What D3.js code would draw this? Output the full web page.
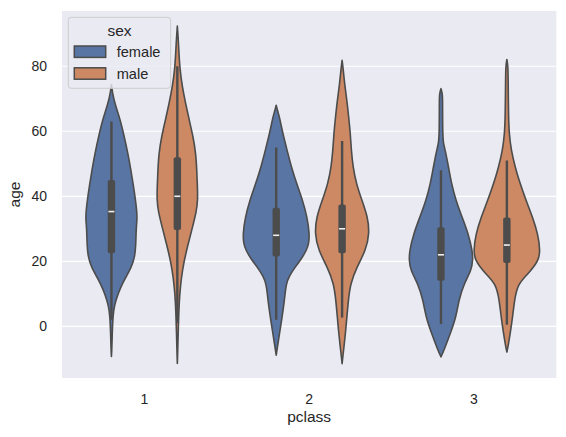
<!DOCTYPE html>
<html>
<head>
<meta charset="utf-8">
<script src="https://cdn.jsdelivr.net/npm/d3@7"></script>
<style>
  body { margin: 0; background: #fff; }
  text { font-family: "Liberation Sans", Arial, sans-serif; fill: #262626; }
</style>
</head>
<body>
<div id="chart"></div>
<script>
var vWidth = 566;
var vHeight = 437;

// categories
var classes = ["1", "2", "3"];
var sexes = ["female", "male"];
var yTicks = [0, 20, 40, 60, 80];

// violin outlines: [age, relative density]
var femaleClass1 = [[74.4, 0], [72, 0.03], [68.6, 0.10], [63.5, 0.27], [58.3, 0.39], [53.2, 0.50],
    [48.1, 0.59], [43, 0.67], [38.9, 0.73], [35.3, 0.77], [33, 0.78], [30.1, 0.75], [25, 0.74],
    [21.5, 0.71], [18.5, 0.62], [14.8, 0.42], [11.5, 0.26], [9.6, 0.19], [6.5, 0.09], [3, 0.045],
    [-2, 0.025], [-7, 0.012], [-9.3, 0]];
var maleClass1 = [[92.4, 0], [88, 0.03], [84, 0.05], [78.9, 0.08], [73.7, 0.15], [68.6, 0.25],
    [63.5, 0.36], [58.3, 0.48], [53.2, 0.56], [48.1, 0.59], [43, 0.61], [38.9, 0.62], [35.3, 0.58],
    [30.1, 0.45], [25, 0.32], [19.9, 0.20], [14.8, 0.12], [9.6, 0.07], [4.5, 0.045], [-0.6, 0.03],
    [-6, 0.015], [-9, 0.008], [-11.4, 0]];
var femaleClass2 = [[68, 0], [66, 0.05], [64.4, 0.10], [59.3, 0.20], [54.2, 0.33], [49, 0.46],
    [43.9, 0.62], [38.8, 0.80], [33.6, 0.94], [28.5, 1.01], [25.4, 0.99], [23.4, 0.92], [20.5, 0.75],
    [18.3, 0.58], [15.5, 0.40], [13.1, 0.30], [8, 0.25], [2.9, 0.18], [-2.3, 0.10], [-6.5, 0.035],
    [-8.9, 0]];
var maleClass2 = [[81.8, 0], [78.5, 0.04], [74.7, 0.075], [69.5, 0.145], [64.4, 0.20], [59.3, 0.25],
    [54.2, 0.28], [49, 0.33], [43.9, 0.43], [38.8, 0.60], [33.6, 0.78], [28.5, 0.83], [23.4, 0.72],
    [18.3, 0.45], [13.1, 0.25], [8, 0.19], [2.9, 0.145], [-2.3, 0.10], [-7.4, 0.045], [-10, 0.015],
    [-11.5, 0]];
var femaleClass3 = [[73.1, 0], [71.5, 0.045], [69.5, 0.05], [59.3, 0.05], [56.2, 0.075], [54.2, 0.13],
    [49, 0.23], [43.9, 0.32], [38.8, 0.45], [33.6, 0.64], [28.5, 0.83], [23.4, 0.95], [20.3, 0.97],
    [17.2, 0.92], [13.1, 0.70], [8, 0.54], [2.9, 0.46], [-2.3, 0.28], [-7.4, 0.09], [-9.4, 0]];
var maleClass3 = [[82.1, 0], [80, 0.035], [74.7, 0.04], [64.4, 0.05], [59.3, 0.07], [54.2, 0.13],
    [49, 0.25], [43.9, 0.40], [38.8, 0.58], [33.6, 0.78], [28.5, 0.94], [23.4, 1.01], [20.3, 0.97],
    [16.5, 0.68], [13.1, 0.33], [8, 0.23], [2.9, 0.175], [-2.3, 0.10], [-6, 0.04], [-7.9, 0]];

// inner box per class: [low whisker, q1, median, q3, high whisker]
var femaleBox = [[2, 22.5, 35.3, 45, 63], [2, 21.5, 28, 36.5, 55], [0.75, 14, 22, 30.5, 48]];
var maleBox = [[0.92, 29.6, 40, 52, 80], [2.7, 22.5, 30, 37.5, 57], [0.5, 19.5, 25, 33.5, 51]];

var sexColor = { female: "#5875a4", male: "#cc8963" };
var lineColor = "#4c4c4c";

var violins = [
    { pclass: "1", sex: "female", profile: femaleClass1, box: femaleBox[0] },
    { pclass: "1", sex: "male", profile: maleClass1, box: maleBox[0] },
    { pclass: "2", sex: "female", profile: femaleClass2, box: femaleBox[1] },
    { pclass: "2", sex: "male", profile: maleClass2, box: maleBox[1] },
    { pclass: "3", sex: "female", profile: femaleClass3, box: femaleBox[2] },
    { pclass: "3", sex: "male", profile: maleClass3, box: maleBox[2] }
];

var margin = { left: 62, right: 9.7, top: 11, bottom: 59 };

var svg = d3.select("#chart")
    .append("svg")
    .attr("width", vWidth)
    .attr("height", vHeight);

var x = d3.scaleBand()
    .domain(classes)
    .range([margin.left, vWidth - margin.right]);

var hue = d3.scaleBand()
    .domain(sexes)
    .range([0, x.bandwidth() * 0.8])
    .paddingInner(0);

var y = d3.scaleLinear()
    .domain([-15.9, 97.0])
    .range([vHeight - margin.bottom, margin.top]);

var w = d3.scaleLinear()
    .domain([0, 1])
    .range([0, hue.bandwidth() / 2]);

// plot background + grid
svg.append("rect")
    .attr("x", margin.left)
    .attr("y", margin.top)
    .attr("width", vWidth - margin.left - margin.right)
    .attr("height", vHeight - margin.top - margin.bottom)
    .attr("fill", "#eaeaf2");

svg.append("g")
    .selectAll("line")
    .data(yTicks)
    .enter().append("line")
    .attr("x1", margin.left)
    .attr("x2", vWidth - margin.right)
    .attr("y1", d => y(d))
    .attr("y2", d => y(d))
    .attr("stroke", "#fff")
    .attr("stroke-width", 1.2);

function centerOf(v) {
    return x(v.pclass) + x.bandwidth() * 0.1 + hue(v.sex) + hue.bandwidth() / 2;
}

var g = svg.append("g");

violins.forEach(function (v) {
    var cx = centerOf(v);
    var area = d3.area()
        .y(d => y(d[0]))
        .x0(d => cx - w(d[1]))
        .x1(d => cx + w(d[1]))
        .curve(d3.curveBasis);

    g.append("path")
        .datum(v.profile)
        .attr("d", area)
        .attr("fill", sexColor[v.sex])
        .attr("stroke", lineColor)
        .attr("stroke-width", 1.6)
        .attr("stroke-linejoin", "round");

    var b = v.box;
    // whisker
    g.append("line")
        .attr("x1", cx).attr("x2", cx)
        .attr("y1", y(b[0])).attr("y2", y(b[4]))
        .attr("stroke", lineColor)
        .attr("stroke-width", 2.4);
    // box
    g.append("rect")
        .attr("x", cx - 3.7)
        .attr("width", 7.4)
        .attr("y", y(b[3]))
        .attr("height", y(b[1]) - y(b[3]))
        .attr("rx", 2)
        .attr("fill", lineColor);
    // median
    g.append("line")
        .attr("x1", cx - 3).attr("x2", cx + 3)
        .attr("y1", y(b[2])).attr("y2", y(b[2]))
        .attr("stroke", "#f0f0f0")
        .attr("stroke-width", 1.6);
});

// axes tick labels
svg.append("g")
    .selectAll("text")
    .data(yTicks)
    .enter().append("text")
    .attr("x", 47)
    .attr("y", d => y(d))
    .attr("dy", "0.36em")
    .attr("text-anchor", "end")
    .attr("font-size", 14)
    .text(d => d);

svg.append("g")
    .selectAll("text")
    .data(classes)
    .enter().append("text")
    .attr("x", d => x(d) + x.bandwidth() / 2)
    .attr("y", 404)
    .attr("text-anchor", "middle")
    .attr("font-size", 14)
    .text(d => d);

svg.append("text")
    .attr("x", x("2") + x.bandwidth() / 2)
    .attr("y", 422)
    .attr("text-anchor", "middle")
    .attr("font-size", 15.5)
    .text("pclass");

svg.append("text")
    .attr("transform", "translate(20," + ((margin.top + vHeight - margin.bottom) / 2) + ") rotate(-90)")
    .attr("text-anchor", "middle")
    .attr("font-size", 15.5)
    .text("age");

// legend
var legend = svg.append("g");
legend.append("rect")
    .attr("x", 68.3).attr("y", 17.3)
    .attr("width", 102.4).attr("height", 71)
    .attr("rx", 3)
    .attr("fill", "#eaeaf2").attr("fill-opacity", 0.8)
    .attr("stroke", "#cccccc").attr("stroke-width", 1);

legend.append("text")
    .attr("x", 119.5).attr("y", 36)
    .attr("text-anchor", "middle")
    .attr("font-size", 15.5)
    .text("sex");

var items = legend.selectAll(".item")
    .data(sexes)
    .enter().append("g")
    .attr("transform", (d, i) => "translate(0," + (i * 21.8) + ")");

items.append("rect")
    .attr("x", 74.3).attr("y", 46)
    .attr("width", 31.4).attr("height", 11.4)
    .attr("fill", d => sexColor[d])
    .attr("stroke", lineColor)
    .attr("stroke-width", 1.5);

items.append("text")
    .attr("x", 116.7).attr("y", 56.8)
    .attr("font-size", 14.6)
    .text(d => d);
</script>
</body>
</html>
